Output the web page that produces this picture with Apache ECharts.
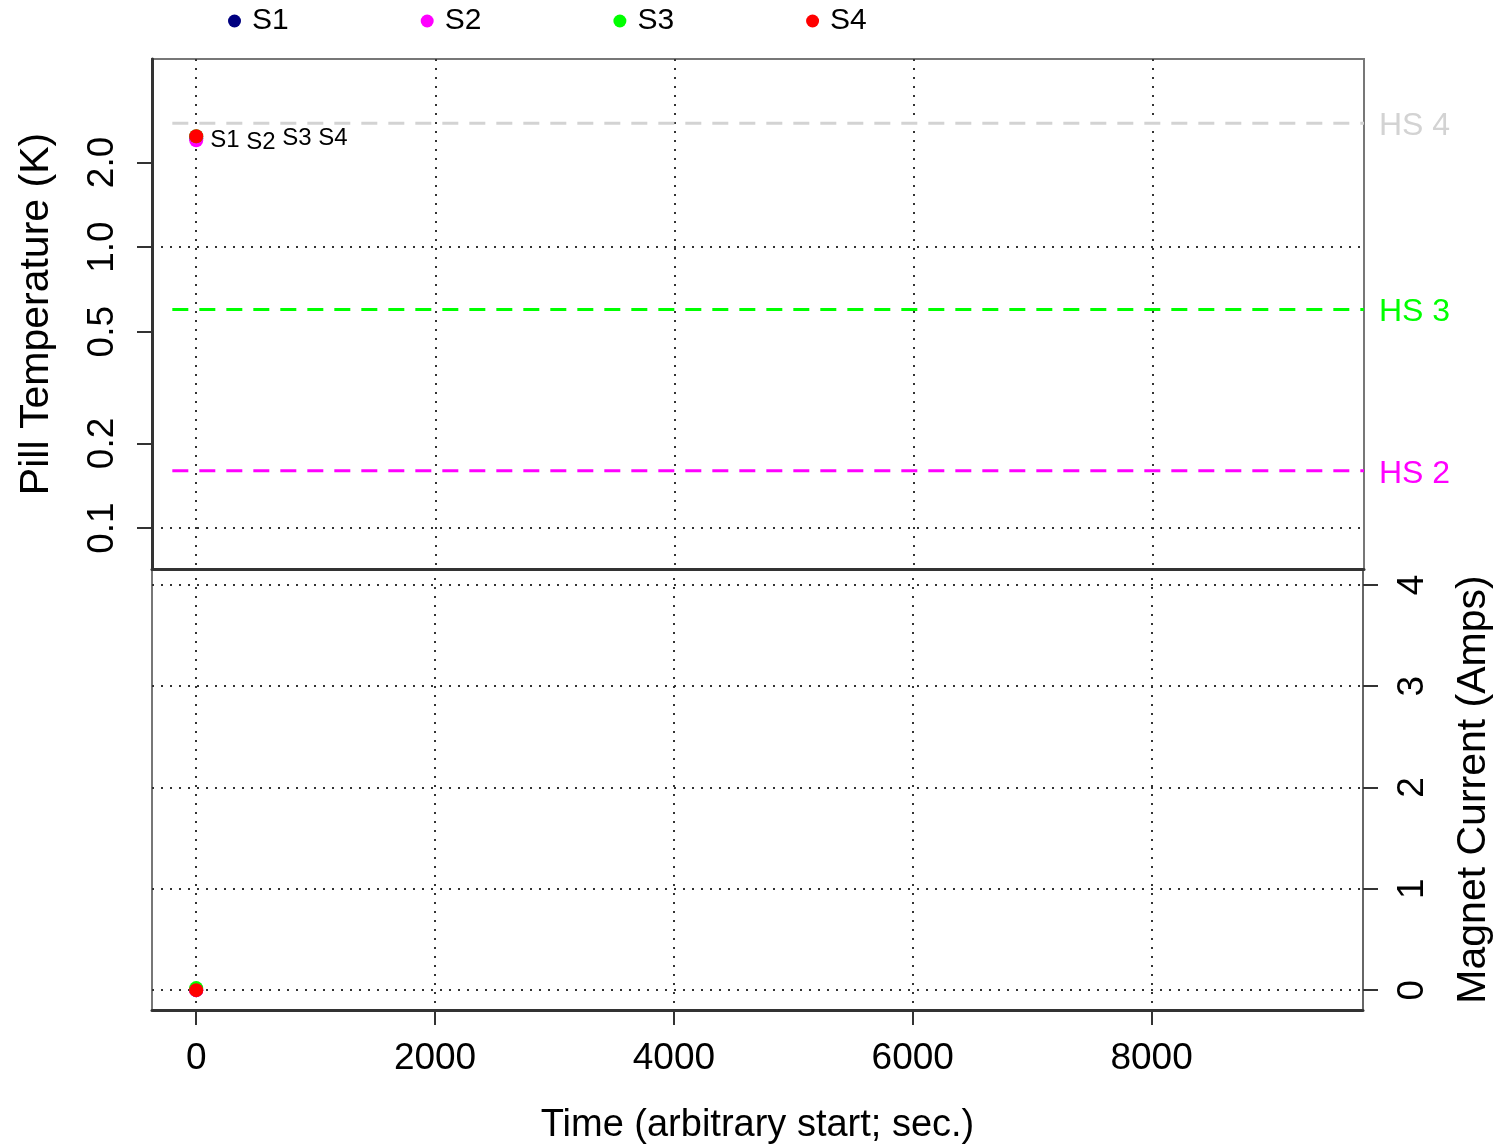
<!DOCTYPE html>
<html><head><meta charset="utf-8">
<script src="https://cdn.jsdelivr.net/npm/echarts@6/dist/echarts.min.js"></script>
<style>html,body{margin:0;padding:0;background:#fff;}#c{width:1502px;height:1146px;}</style>
</head><body><div id="c"></div>
<script>
// ---- data ----
var seriesNames = ['S1', 'S2', 'S3', 'S4'];
var seriesColors = ['#000080', '#ff00ff', '#00ff00', '#ff0000'];
var timeValues = [0, 0, 0, 0];
var tempValues = [2.44, 2.40, 2.48, 2.48];
var currentValues = [0, 0, 0.02, 0];
var hsNames = ['HS 4', 'HS 3', 'HS 2'];
var hsTemps = [2.76, 0.6, 0.16];
var hsColors = ['#d3d3d3', '#00ff00', '#ff00ff'];
var hsStartX = -200;
var xTicks = [0, 2000, 4000, 6000, 8000];
var tempTicks = [0.1, 0.2, 0.5, 1, 2];
var tempTickLabels = ['0.1', '0.2', '0.5', '1.0', '2.0'];
var tempGrid = [0.1, 1];
var currentTicks = [0, 1, 2, 3, 4];

var X_MIN = -370, X_MAX = 9770;
var T_MIN = 0.0715, T_MAX = 4.67;
var C_MIN = -0.196, C_MAX = 4.157;
var FONT = 'Liberation Sans, Arial, Helvetica, sans-serif';
var dotted = {show: true, lineStyle: {color: '#333', type: [2, 7], width: 2}};

var chart = echarts.init(document.getElementById('c'));
var series = [];
seriesNames.forEach(function (n, i) {
  series.push({
    name: n, type: 'scatter', xAxisIndex: 0, yAxisIndex: 0,
    symbol: 'circle', symbolSize: 14, itemStyle: {color: seriesColors[i], opacity: 1},
    data: [[timeValues[i], tempValues[i]]],
    label: {show: true, position: 'right', distance: 7, offset: [36 * i, 2],
      formatter: n, color: '#000', fontSize: 24, fontFamily: FONT},
    z: 10 + i
  });
  series.push({
    name: n, type: 'scatter', xAxisIndex: 1, yAxisIndex: 2,
    symbol: 'circle', symbolSize: 14, itemStyle: {color: seriesColors[i], opacity: 1},
    data: [[timeValues[i], currentValues[i]]], z: 10 + i
  });
});
hsNames.forEach(function (n, i) {
  series.push({
    name: n, type: 'line', xAxisIndex: 0, yAxisIndex: 0, symbol: 'none',
    lineStyle: {color: hsColors[i], width: 3, type: [16, 11]},
    data: [[hsStartX, hsTemps[i]], [X_MAX, hsTemps[i]]],
    endLabel: {show: true, formatter: n, color: hsColors[i], fontSize: 32, fontFamily: FONT, distance: 15, offset: [0, 3]},
    silent: true, z: 5
  });
});

chart.setOption({
  animation: false,
  backgroundColor: '#fff',
  textStyle: {fontFamily: FONT},
  legend: {
    data: seriesNames, top: 1, left: 223, itemWidth: 13, itemHeight: 13, itemGap: 132,
    icon: 'circle', textStyle: {fontSize: 30, color: '#000', fontFamily: FONT, padding: [0, 0, 0, 6]}
  },
  grid: [
    {left: 152, top: 59, width: 1212, height: 510, show: true, borderColor: '#777', borderWidth: 2, backgroundColor: 'transparent'},
    {left: 152, top: 569, width: 1212, height: 444, show: true, borderColor: '#777', borderWidth: 2, backgroundColor: 'transparent'}
  ],
  xAxis: [
    {gridIndex: 0, type: 'value', min: X_MIN, max: X_MAX,
      axisLine: {show: true, onZero: false, lineStyle: {color: '#333', width: 3}},
      axisTick: {show: false, customValues: xTicks}, axisLabel: {show: false, customValues: xTicks},
      splitLine: dotted},
    {gridIndex: 1, type: 'value', min: X_MIN, max: X_MAX,
      axisLine: {show: true, onZero: false, lineStyle: {color: '#333', width: 3}},
      axisTick: {show: true, inside: false, length: 15, customValues: xTicks, lineStyle: {color: '#333', width: 2}},
      axisLabel: {customValues: xTicks, fontSize: 37, color: '#000', margin: 30, fontFamily: FONT,
        formatter: function (v) { return String(v); }},
      splitLine: dotted,
      name: 'Time (arbitrary start; sec.)', nameLocation: 'middle', nameGap: 97,
      nameTextStyle: {fontSize: 38, color: '#000', fontFamily: FONT}}
  ],
  yAxis: [
    {gridIndex: 0, type: 'log', min: T_MIN, max: T_MAX, position: 'left',
      axisLine: {show: true, onZero: false, lineStyle: {color: '#333', width: 3}},
      axisTick: {show: true, length: 15, customValues: tempTicks, lineStyle: {color: '#333', width: 2}},
      axisLabel: {customValues: tempTicks, rotate: 90, fontSize: 37, color: '#000', margin: 31, fontFamily: FONT,
        formatter: function (v) { var k = tempTicks.indexOf(v); return k >= 0 ? tempTickLabels[k] : String(v); }},
      splitLine: {show: false},
      name: 'Pill Temperature (K)', nameLocation: 'middle', nameRotate: 90, nameGap: 95,
      nameTextStyle: {fontSize: 41, color: '#000', fontFamily: FONT}},
    {gridIndex: 0, type: 'log', min: T_MIN, max: T_MAX, position: 'left',
      axisLine: {show: false, onZero: false}, axisTick: {show: false, customValues: tempGrid},
      axisLabel: {show: false, customValues: tempGrid}, splitLine: dotted},
    {gridIndex: 1, type: 'value', min: C_MIN, max: C_MAX, position: 'right',
      axisLine: {show: true, onZero: false, lineStyle: {color: '#666', width: 2}},
      axisTick: {show: true, length: 15, customValues: currentTicks, lineStyle: {color: '#333', width: 2}},
      axisLabel: {customValues: currentTicks, rotate: 90, fontSize: 37, color: '#000', margin: 31, fontFamily: FONT},
      splitLine: dotted,
      name: 'Magnet Current (Amps)', nameLocation: 'middle', nameRotate: 90, nameGap: 90,
      nameTextStyle: {fontSize: 41, color: '#000', fontFamily: FONT}}
  ],
  series: series
});
</script></body></html>
